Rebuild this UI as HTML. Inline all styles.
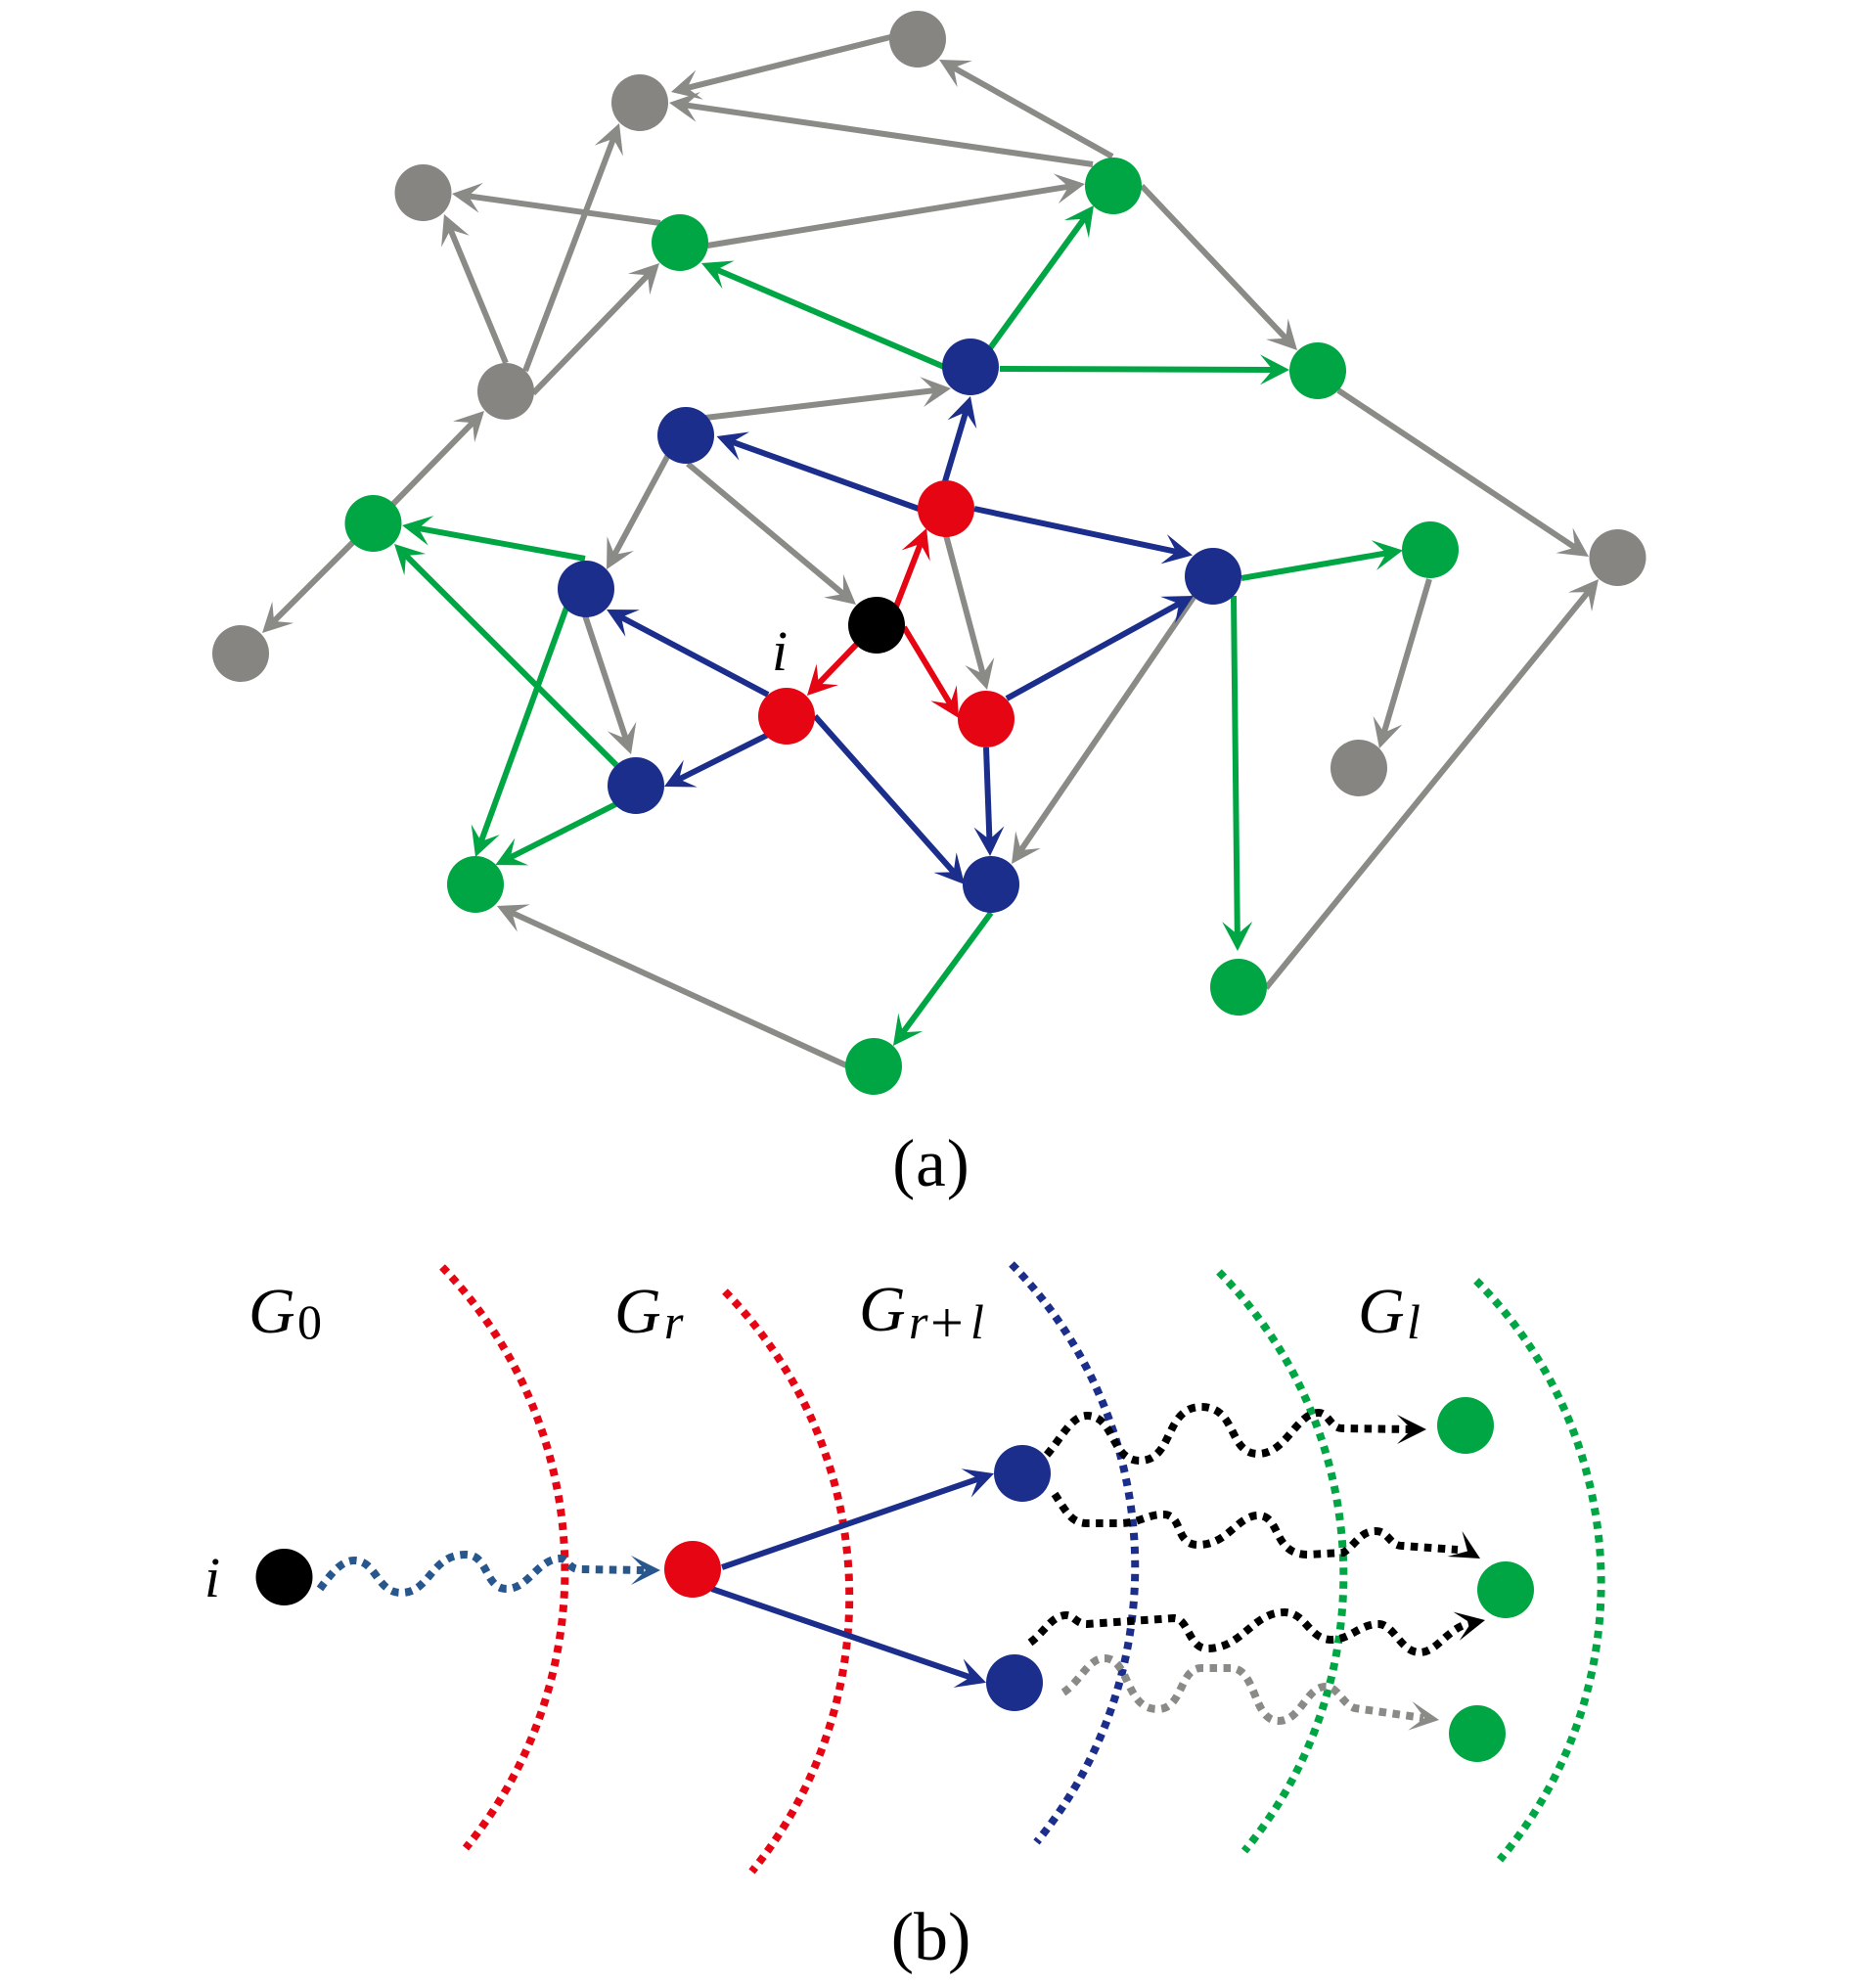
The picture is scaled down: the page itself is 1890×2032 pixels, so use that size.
<!DOCTYPE html>
<html><head><meta charset="utf-8"><style>
html,body{margin:0;padding:0;background:#fff;width:1890px;height:2032px;overflow:hidden}
svg{display:block}
text{font-family:"Liberation Serif",serif;fill:#000}
.g{stroke:#8a8a87;stroke-width:6;fill:none;marker-end:url(#mg)}
.v{stroke:#00a643;stroke-width:6;fill:none;marker-end:url(#mv)}
.b{stroke:#1b2e8c;stroke-width:6;fill:none;marker-end:url(#mb)}
.r{stroke:#e60513;stroke-width:6;fill:none;marker-end:url(#mr)}
.d{fill:none;stroke-width:8;stroke-dasharray:7.5 6.5}
.w{fill:none;stroke-width:8;stroke-dasharray:7.5 6.5}
.i{font-style:italic}
</style></head><body>
<svg width="1890" height="2032" viewBox="0 0 1890 2032" xmlns="http://www.w3.org/2000/svg">
<defs>
<marker id="mg" markerUnits="userSpaceOnUse" viewBox="-25 -20 40 40" refX="0" refY="0" markerWidth="40" markerHeight="40" orient="auto" overflow="visible"><path fill="#8a8a87" d="M9,0 L-21,15.5 L-8,0 L-21,-15.5Z"/></marker>
<marker id="mv" markerUnits="userSpaceOnUse" viewBox="-25 -20 40 40" refX="0" refY="0" markerWidth="40" markerHeight="40" orient="auto" overflow="visible"><path fill="#00a643" d="M9,0 L-21,15.5 L-8,0 L-21,-15.5Z"/></marker>
<marker id="mb" markerUnits="userSpaceOnUse" viewBox="-25 -20 40 40" refX="0" refY="0" markerWidth="40" markerHeight="40" orient="auto" overflow="visible"><path fill="#1b2e8c" d="M9,0 L-21,15.5 L-8,0 L-21,-15.5Z"/></marker>
<marker id="mr" markerUnits="userSpaceOnUse" viewBox="-25 -20 40 40" refX="0" refY="0" markerWidth="40" markerHeight="40" orient="auto" overflow="visible"><path fill="#e60513" d="M9,0 L-21,15.5 L-8,0 L-21,-15.5Z"/></marker>
<path id="h" d="M0,0 L-30,15 L-15,0 L-30,-15Z"/>
</defs>

<!-- (a) gray edges -->
<g>
<path class="g" d="M910,38 L694.7,91.8"/>
<path class="g" d="M1117,168 L692.9,106.3"/>
<path class="g" d="M1137,160 L967.9,65.4"/>
<path class="g" d="M723,251 L1100.1,189.4"/>
<path class="g" d="M675,228 L470.9,199.3"/>
<path class="g" d="M517,371 L457.4,227.3"/>
<path class="g" d="M537,379 L629.8,134.4"/>
<path class="g" d="M545,402 L667.7,275.5"/>
<path class="g" d="M402,515 L488.7,426.4"/>
<path class="g" d="M361,554 L274.4,640.6"/>
<path class="g" d="M721,427 L963.1,398.1"/>
<path class="g" d="M683,465 L624.3,574.1"/>
<path class="g" d="M703,474 L868.1,612.2"/>
<path class="g" d="M598,629 L642.2,762.5"/>
<path class="g" d="M967,547 L1006.7,696.3"/>
<path class="g" d="M1221,609 L1039.1,875.6"/>
<path class="g" d="M1167,190 L1319.8,351.5"/>
<path class="g" d="M1368,399 L1616.5,564"/>
<path class="g" d="M1461,592 L1412.5,756.4"/>
<path class="g" d="M1294,1010 L1628.3,599"/>
<path class="g" d="M865,1089 L516.2,929.7"/>
</g>
<!-- (a) green edges -->
<g>
<path class="v" d="M1012,356 L1112.7,217.3"/>
<path class="v" d="M965,375 L725.3,272.5"/>
<path class="v" d="M1022,377 L1309,378"/>
<path class="v" d="M1269,591 L1425.1,564"/>
<path class="v" d="M1261,609 L1264.9,963"/>
<path class="v" d="M1013,933 L918.3,1061.7"/>
<path class="v" d="M598,571 L419.9,538.6"/>
<path class="v" d="M630,782 L409.4,562.3"/>
<path class="v" d="M579,621 L489.1,867.5"/>
<path class="v" d="M631.5,821 L514.5,880"/>
</g>
<!-- (a) blue edges -->
<g>
<path class="b" d="M966,492 L989.4,413.6"/>
<path class="b" d="M939,520 L741,449"/>
<path class="b" d="M996,520 L1210.2,565.6"/>
<path class="b" d="M1029,714 L1212.1,613.3"/>
<path class="b" d="M1008,764 L1011.7,866"/>
<path class="b" d="M785,710 L628,627.2"/>
<path class="b" d="M785,751 L687,800"/>
<path class="b" d="M833,732 L980,897.3"/>
</g>
<!-- (a) red edges -->
<g>
<path class="r" d="M916,620 L943.8,548.4"/>
<path class="r" d="M876,658 L831.2,704.5"/>
<path class="r" d="M924,641 L975.4,726.3"/>
</g>
<!-- (a) nodes -->
<g fill="#868581">
<circle cx="938" cy="40" r="29"/><circle cx="654" cy="105" r="29"/><circle cx="432.5" cy="197" r="29"/>
<circle cx="517" cy="400" r="29"/><circle cx="246" cy="668" r="29"/><circle cx="1653.5" cy="570" r="29"/><circle cx="1389" cy="785" r="29"/>
</g>
<g fill="#00a643">
<circle cx="695" cy="248" r="29"/><circle cx="1138" cy="190" r="29"/><circle cx="1347" cy="379" r="29"/>
<circle cx="381.5" cy="535" r="29"/><circle cx="1462" cy="562" r="29"/><circle cx="486" cy="904" r="29"/>
<circle cx="893" cy="1090" r="29"/><circle cx="1266" cy="1009" r="29"/>
</g>
<g fill="#1b2e8c">
<circle cx="992" cy="375" r="29"/><circle cx="701" cy="445" r="29"/><circle cx="1240" cy="589" r="29"/>
<circle cx="599" cy="602" r="29"/><circle cx="650" cy="803" r="29"/><circle cx="1013" cy="904" r="29"/>
</g>
<g fill="#e60513">
<circle cx="967" cy="520" r="29"/><circle cx="804" cy="732" r="29"/><circle cx="1008" cy="735" r="29"/>
</g>
<circle cx="896" cy="639" r="29" fill="#000"/>
<text class="i" x="789" y="685" font-size="58">i</text>
<text x="952" y="1212" font-size="69" letter-spacing="1" text-anchor="middle">(a)</text>

<!-- (b) arcs -->
<path class="d" stroke="#e60513" d="M452,1295 A447,447 0 0 1 476,1889"/>
<path class="d" stroke="#e60513" d="M741,1320 A446,446 0 0 1 768.5,1913"/>
<path class="d" stroke="#1b2e8c" d="M1034,1292 A443,443 0 0 1 1059.5,1883"/>
<path class="d" stroke="#00a643" d="M1246,1300 A442,442 0 0 1 1272,1892"/>
<path class="d" stroke="#00a643" d="M1509,1309 A438,438 0 0 1 1533,1901"/>

<!-- (b) solid arrows -->
<path class="b" d="M738,1602 L1007.5,1509"/>
<path class="b" d="M727.5,1624 L999.5,1717"/>

<!-- (b) wavy paths -->
<path class="w" stroke="#27578c" d="M327,1624 C340,1606 350,1595 362,1595 C385,1595 385,1628 410,1628 C440,1628 440,1589 476,1589 C500,1589 495,1624 518,1624 C540,1624 550,1593 573,1593 C580,1593 582,1604 592,1604 L660,1605"/>
<use href="#h" fill="#27578c" transform="translate(675,1605)"/>

<path class="w" stroke="#000" d="M1070,1487 C1085,1470 1095,1447 1111,1447 C1140,1447 1135,1493 1165,1493 C1200,1493 1190,1438 1228,1438 C1265,1438 1255,1486 1286,1486 C1315,1486 1325,1444 1348,1444 C1358,1444 1360,1460 1372,1460 L1445,1461"/>
<use href="#h" fill="#000" transform="translate(1458,1461)"/>

<path class="w" stroke="#000" d="M1078,1527 C1090,1545 1095,1557 1111,1557 L1144,1557 C1165,1557 1172,1548 1189,1548 C1210,1548 1200,1579 1225,1579 C1255,1579 1265,1549 1286,1549 C1310,1549 1300,1589 1337,1589 L1373,1587 C1385,1580 1390,1565 1406,1565 C1420,1565 1420,1580 1433,1580 L1490,1584"/>
<use href="#h" fill="#000" transform="translate(1513,1593) rotate(30)"/>

<path class="w" stroke="#000" d="M1053,1679 C1068,1668 1075,1651 1090,1651 C1098,1651 1100,1660 1111,1660 L1200,1654 C1215,1654 1215,1685 1234,1685 C1270,1685 1280,1648 1313,1648 C1335,1648 1338,1676 1361,1676 C1380,1676 1390,1660 1409,1660 C1425,1660 1432,1689 1451,1689 C1470,1689 1480,1662 1505,1659"/>
<use href="#h" fill="#000" transform="translate(1518,1656) rotate(-12)"/>

<path class="w" stroke="#8a8a87" d="M1087,1730 C1105,1718 1112,1695 1129,1695 C1155,1695 1150,1747 1183,1747 C1210,1747 1205,1705 1228,1705 L1258,1705 C1285,1705 1280,1759 1307,1759 C1330,1759 1335,1724 1355,1724 C1368,1724 1372,1742 1385,1746 L1455,1756"/>
<use href="#h" fill="#8a8a87" transform="translate(1471,1758) rotate(8)"/>

<!-- (b) nodes -->
<circle cx="290.5" cy="1612" r="29" fill="#000"/>
<circle cx="708" cy="1604" r="29" fill="#e60513"/>
<circle cx="1045" cy="1506" r="29" fill="#1b2e8c"/>
<circle cx="1037" cy="1720" r="29" fill="#1b2e8c"/>
<circle cx="1498" cy="1457" r="29" fill="#00a643"/>
<circle cx="1539" cy="1625" r="29" fill="#00a643"/>
<circle cx="1510" cy="1772" r="29" fill="#00a643"/>

<!-- (b) labels -->
<text class="i" x="254" y="1362" font-size="66">G</text>
<text x="304" y="1368" font-size="50">0</text>
<text class="i" x="628" y="1362" font-size="66">G</text>
<text class="i" x="679" y="1368" font-size="50">r</text>
<text class="i" x="878" y="1360" font-size="66">G</text>
<text class="i" x="929" y="1368" font-size="50">r</text>
<text x="951" y="1372" font-size="60">+</text>
<text class="i" x="992" y="1368" font-size="50">l</text>
<text class="i" x="1388" y="1362" font-size="66">G</text>
<text class="i" x="1438" y="1368" font-size="50">l</text>
<text class="i" x="209" y="1632" font-size="58">i</text>
<text x="951.5" y="2003" font-size="70" text-anchor="middle">(b)</text>
</svg>
</body></html>
